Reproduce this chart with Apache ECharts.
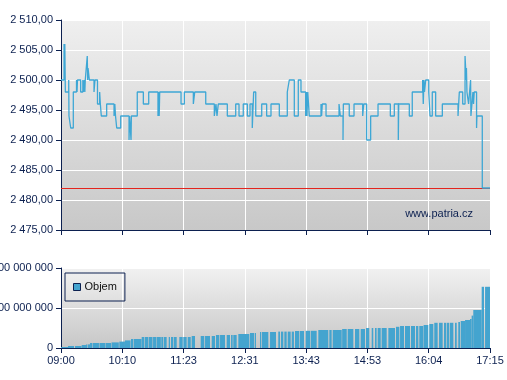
<!DOCTYPE html>
<html><head><meta charset="utf-8">
<script src="https://cdn.jsdelivr.net/npm/echarts@6/dist/echarts.min.js"></script>
<style>html,body{margin:0;padding:0;background:#fff}#c{width:507px;height:380px}</style>
</head><body><div id="c"></div>
<script>
// minutes after 09:00 -> price (step changes)
const priceTicks = [
[0,2500],[3.5,2506],[4.0,2500],[4.4,2506],[5.0,2498],[8.9,2500],[9.2,2494],[11.2,2492],[14.2,2498],
[17.9,2500],[18.5,2498],[19.0,2500],[22.7,2498],[25.2,2500],[25.8,2498],[26.9,2500],[27.5,2498],[28.0,2500],
[30.3,2504],[30.8,2500],[31.2,2502],[32.7,2500],[38.1,2498],[39.2,2500],[42.1,2496],[44.6,2498],[45.4,2496],
[46.5,2494],[52.7,2496],[61.2,2494],[62.1,2496],[62.9,2494],[64.3,2492],[68.9,2494],[78.5,2490],[79.1,2494],
[80.8,2490],[81.2,2494],[88.0,2498],[95.0,2496],[101.2,2498],[111.9,2494],[112.6,2498],[113.3,2494],[113.9,2498],
[138.5,2496],[142.3,2498],[152.7,2496],[154.3,2498],[167.0,2496],[176.9,2494],[178.8,2496],[180.0,2494],[181.5,2496],
[191.9,2494],[201.6,2496],[205.4,2494],[210.3,2496],[215.0,2494],[218.1,2496],[220.7,2492],[222.3,2498],[224.7,2494],
[231.6,2496],[237.3,2494],[242.3,2496],[251.9,2494],[261.1,2498],[263.4,2500],[269.2,2494],[273.8,2500],[276.9,2498],
[282.3,2494],[283.1,2498],[283.8,2494],[284.7,2498],[286.5,2494],[300.0,2496],[300.7,2494],[301.5,2496],[305.8,2494],
[320.8,2496],[322.3,2494],[325.4,2490],[325.8,2496],[332.6,2494],[338.1,2496],[348.1,2494],[349.3,2496],[352.7,2490],
[357.3,2494],[365.8,2496],[380.0,2494],[384.6,2496],[389.2,2490],[389.7,2496],[401.9,2494],[405.3,2498],[417.3,2500],
[418.0,2496],[418.8,2500],[419.4,2498],[420.8,2500],[424.3,2498],[425.8,2494],[428.4,2498],[432.3,2494],[440.0,2496],
[458.1,2494],[459.6,2498],[463.5,2496],[466.2,2504],[466.9,2502],[467.4,2500],[467.8,2502],[468.4,2498],[470.3,2496],
[472.6,2500],[473.0,2494],[475.3,2498],[476.0,2496],[476.8,2498],[479.5,2492],[479.9,2494],[486.1,2482],[495,2482]
];
const refPrice = 2482;
// cumulative volume: [start minute, end minute, volume in millions]
const volumeBars = [
[0,8.1,2.5],[8.1,15.0,5],[16.2,23.7,5],[23.9,28.8,7.5],[28.8,30.0,9],[30.7,33.5,9],
[33.5,36.3,12.5],[36.9,43.8,12.5],[44.4,50.8,12.5],[51.3,57.7,12.5],[58.3,66.7,14],[67.3,73.8,16],[73.8,80.2,19],
[80.8,83.1,22.5],[83.8,92.9,22.5],[93.1,95.8,27.5],[96.5,100.7,27.5],[101.3,105.6,27.5],[106.2,110.2,27.5],
[110.8,115.2,27.5],[115.7,118.0,27.5],[118.8,121.9,27.5],[124.3,125.8,27.5],[126.9,129.6,27.5],[130.4,133.5,27.5],
[136.5,140.4,27.5],[141.1,145.0,27.5],[146.2,149.7,27.5],[150.8,154.6,30],[161.2,165.3,30],[166.2,171.9,30],
[173.9,177.7,30],[178.8,182.7,32.5],[183.5,189.2,32.5],[191.2,195.0,32.5],[196.2,198.1,32.5],[198.8,202.7,32.5],
[204.6,217.3,35],[218.1,223.0,37.5],[223.8,225.0,37.5],[229.6,230.8,40],[231.6,239.2,40],[241.2,248.1,40],
[250.7,252.7,41],[253.8,256.5,41],[257.7,260.4,41],[261.6,265.0,41],[266.2,268.8,41],[270.0,275.0,42.5],[275.8,280.4,42.5],
[282.3,287.3,43],[288.1,295.0,43],[296.9,308.4,45],[309.6,312.3,45],[313.5,323.9,45],[324.4,329.7,47.5],
[330.8,337.3,47.5],[339.2,344.2,47.5],[345.8,350.8,47.5],[351.9,355.7,50],[358.5,360.3,50],[362.3,364.2,50],
[365.4,368.9,50],[370.0,375.8,50],[377.7,385.4,50],[386.5,390.4,53],[391.2,395.8,55],[396.9,402.7,55],
[403.8,408.5,55],[409.6,412.3,55],[413.4,418.0,55],[418.4,423.8,57.5],[425.0,429.6,60],[430.7,434.6,63],
[436.2,440.4,63],[441.9,444.2,63],[445.0,448.0,63],[448.8,452.7,63],[454.6,456.6,63],[458.4,460.4,65],
[461.2,466.2,67.5],[466.2,471.9,70],[471.9,473.8,72.5],[473.8,475.7,81],[475.7,485.4,95],[485.4,488.1,153],[489.3,495,153]
];
const xTickLabels = ['09:00','10:10','11:23','12:31','13:43','14:53','16:04','17:15'];
const sessionMinutes = 495;

const navy = '#0c2050';
const fontFamily = 'Liberation Sans, Arial, sans-serif';
function fmtNum(v, dec) {
  const s = v.toFixed(dec);
  const parts = s.split('.');
  const int = parts[0].replace(/\B(?=(\d{3})+(?!\d))/g, ' ');
  return parts.length > 1 ? int + ',' + parts[1] : int;
}
const xInterval = sessionMinutes / 7;
function bg(top, bottom) {
  return new echarts.graphic.LinearGradient(0, 0, 0, 1, [{offset: 0, color: top}, {offset: 1, color: bottom}]);
}
const chart = echarts.init(document.getElementById('c'), null, {renderer: 'canvas'});
const xCommon = {
  type: 'value', min: 0, max: sessionMinutes, interval: xInterval,
  axisLine: {show: true, onZero: false, lineStyle: {color: navy, width: 1}},
  axisTick: {show: true, length: 5, lineStyle: {color: navy}},
  splitLine: {show: true, lineStyle: {color: '#ffffff', width: 1}}
};
chart.setOption({
  animation: false,
  textStyle: {fontFamily: fontFamily},
  grid: [
    {left: 61, right: 17, top: 20, height: 210, show: true, borderWidth: 0, containLabel: false, outerBoundsMode: 'none',
      backgroundColor: bg('#efefef', '#c8c8c8')},
    {left: 61, right: 17, top: 268, height: 80, show: true, borderWidth: 0, containLabel: false, outerBoundsMode: 'none',
      backgroundColor: bg('#f1f1f1', '#c7c7c7')}
  ],
  legend: {
    show: true, left: 65, top: 273, orient: 'vertical',
    padding: [8, 8, 8, 8], itemWidth: 7, itemHeight: 7, itemGap: 0,
    borderColor: navy, borderWidth: 1, backgroundColor: 'transparent',
    data: [{name: 'Objem', icon: 'rect', itemStyle: {color: '#44a4cf', borderColor: navy, borderWidth: 1}}],
    textStyle: {color: '#111', fontSize: 11, fontFamily: fontFamily, lineHeight: 12, padding: [0,0,0,-1]}
  },
  xAxis: [
    Object.assign({gridIndex: 0, axisLabel: {show: false}}, xCommon),
    Object.assign({gridIndex: 1, axisLabel: {show: true, color: navy, fontSize: 11, margin: 7, fontFamily: fontFamily,
      showMinLabel: true, showMaxLabel: true,
      formatter: function (v) { return xTickLabels[Math.round(v / xInterval)] || ''; }}}, xCommon)
  ],
  yAxis: [
    {gridIndex: 0, type: 'value', min: 2475, max: 2510, interval: 5,
      axisLine: {show: true, lineStyle: {color: navy}}, axisTick: {show: true, length: 5, lineStyle: {color: navy}},
      splitLine: {show: true, lineStyle: {color: '#ffffff', width: 1}},
      axisLabel: {color: navy, fontSize: 11, margin: 8, fontFamily: fontFamily, formatter: function (v) { return fmtNum(v, 2); }}},
    {gridIndex: 1, type: 'value', min: 0, max: 200, interval: 100,
      axisLine: {show: true, lineStyle: {color: navy}}, axisTick: {show: true, length: 5, lineStyle: {color: navy}},
      splitLine: {show: true, lineStyle: {color: '#ffffff', width: 1}},
      axisLabel: {color: navy, fontSize: 11, margin: 8, fontFamily: fontFamily, formatter: function (v) { return fmtNum(v * 1e6, 0); }}}
  ],
  graphic: [{type: 'text', right: 34, top: 208, style: {text: 'www.patria.cz', fill: navy, font: '11px ' + fontFamily}}],
  series: [
    {type: 'line', name: 'Kurz', xAxisIndex: 0, yAxisIndex: 0, data: priceTicks, step: 'end',
      showSymbol: false, symbol: 'none', lineStyle: {color: '#3ea7d5', width: 1.3}, z: 3,
      markLine: {silent: true, symbol: 'none', label: {show: false}, z: 2,
        lineStyle: {color: '#e3241d', width: 1, type: 'solid'}, data: [{yAxis: refPrice}]}},
    {type: 'custom', name: 'Objem', xAxisIndex: 1, yAxisIndex: 1, data: volumeBars,
      encode: {x: [0, 1], y: 2}, itemStyle: {color: '#44a4cf'},
      renderItem: function (params, api) {
        const s = api.coord([api.value(0), api.value(2)]);
        const e = api.coord([api.value(1), 0]);
        return {type: 'rect', shape: {x: s[0], y: s[1], width: e[0] - s[0], height: e[1] - s[1]},
          style: {fill: '#44a4cf'}};
      }}
  ]
});
</script></body></html>
